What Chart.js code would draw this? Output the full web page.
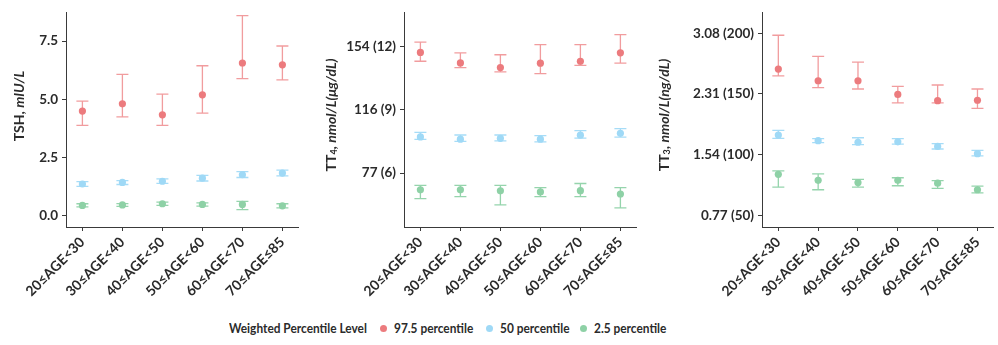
<!DOCTYPE html>
<html>
<head>
<meta charset="utf-8">
<script src="https://cdn.jsdelivr.net/npm/chart.js@4.4.1/dist/chart.umd.min.js"></script>
<style>
  html, body { margin: 0; padding: 0; background: #fff; }
  body { width: 998px; height: 345px; position: relative; overflow: hidden; font-family: Lato, sans-serif; }
  canvas { position: absolute; top: 0; }
  #c1 { left: 0; }
  #c2 { left: 320px; }
  #c3 { left: 650px; }
  .legend span { position: absolute; top: 319px; font-size: 13.5px; font-weight: 700; color: #2b2b2b; white-space: nowrap; line-height: 18px; transform: scaleX(0.88); transform-origin: left center; }
  .legend .dot { width: 7px; height: 7px; border-radius: 50%; top: 325px; transform: none; }
</style>
</head>
<body>
<canvas id="c1" width="305" height="300"></canvas>
<canvas id="c2" width="320" height="300"></canvas>
<canvas id="c3" width="348" height="300"></canvas>
<div class="legend">
  <span style="left:229px">Weighted Percentile Level</span>
  <span class="dot" style="left:380px;background:#ec7b7e"></span>
  <span style="left:394px">97.5 percentile</span>
  <span class="dot" style="left:486px;background:#9fd9f6"></span>
  <span style="left:500px">50 percentile</span>
  <span class="dot" style="left:580px;background:#8ed1a6"></span>
  <span style="left:594px">2.5 percentile</span>
</div>
<script>
const ageGroups = ["20≤AGE<30", "30≤AGE<40", "40≤AGE<50", "50≤AGE<60", "60≤AGE<70", "70≤AGE≤85"];
const seriesNames = ["97.5 percentile", "50 percentile", "2.5 percentile"];

// each entry: [lower CI, estimate, upper CI]
const tshP975 = [[3.87, 4.49, 4.92], [4.24, 4.80, 6.07], [3.87, 4.33, 5.22], [4.40, 5.19, 6.44], [5.89, 6.56, 8.60], [5.83, 6.48, 7.29]];
const tshP50 = [[1.25, 1.35, 1.45], [1.33, 1.42, 1.50], [1.38, 1.47, 1.57], [1.48, 1.60, 1.72], [1.63, 1.75, 1.88], [1.70, 1.82, 1.95]];
const tshP25 = [[0.37, 0.43, 0.50], [0.39, 0.45, 0.51], [0.43, 0.50, 0.57], [0.40, 0.47, 0.54], [0.25, 0.47, 0.60], [0.32, 0.41, 0.50]];

// TT4 in ug/dL
const tt4P975 = [[11.32, 11.74, 12.23], [11.02, 11.24, 11.72], [10.81, 11.02, 11.63], [10.73, 11.23, 12.11], [11.12, 11.32, 12.11], [11.23, 11.72, 12.59]];
const tt4P50 = [[7.60, 7.72, 7.93], [7.51, 7.61, 7.81], [7.53, 7.65, 7.81], [7.48, 7.61, 7.78], [7.66, 7.80, 8.02], [7.71, 7.89, 8.11]];
const tt4P25 = [[4.78, 5.20, 5.41], [4.88, 5.20, 5.41], [4.48, 5.15, 5.41], [4.88, 5.10, 5.30], [4.88, 5.16, 5.50], [4.34, 5.00, 5.30]];

// TT3 in ng/dL
const tt3P975 = [[164.9, 170.5, 198.4], [155.3, 160.9, 181.0], [154.1, 160.9, 176.2], [142.6, 149.6, 156.3], [142.6, 144.5, 157.4], [138.1, 144.8, 154.1]];
const tt3P50 = [[113.4, 116.1, 119.9], [109.9, 111.5, 113.2], [108.3, 110.2, 113.9], [108.6, 110.5, 113.2], [104.6, 106.7, 109.1], [99.0, 100.8, 103.5]];
const tt3P25 = [[73.2, 83.7, 86.6], [71.0, 78.8, 84.1], [73.2, 76.9, 79.6], [74.3, 78.8, 80.9], [72.1, 76.4, 78.5], [68.4, 71.0, 74.0]];

const tshTicks = [0, 2.5, 5, 7.5];
const tshTickLabels = ["0.0", "2.5", "5.0", "7.5"];
const tt4Ticks = [6, 9, 12];
const tt4TickLabels = ["77 (6)", "116 (9)", "154 (12)"];
const tt3Ticks = [50, 100, 150, 200];
const tt3TickLabels = ["0.77 (50)", "1.54 (100)", "2.31 (150)", "3.08 (200)"];

const pointColors = ["#ec7b7e", "#9fd9f6", "#8ed1a6"];
const barColors = ["rgba(236,123,126,0.75)", "rgba(150,214,246,0.85)", "rgba(130,205,158,0.85)"];
const textColor = "#2b2b2b";
const axisColor = "#3a3a3a";

/* error bars drawn under the points */
const errorBars = {
    id: "errorBars",
    beforeDatasetsDraw(chart) {
        const ctx = chart.ctx;
        const yScale = chart.scales.y;
        chart.data.datasets.forEach((ds, i) => {
            const meta = chart.getDatasetMeta(i);
            ctx.save();
            ctx.strokeStyle = barColors[i];
            ctx.lineWidth = 1.3;
            meta.data.forEach((pt, j) => {
                const raw = ds.data[j];
                const yLo = yScale.getPixelForValue(raw.lo);
                const yHi = yScale.getPixelForValue(raw.hi);
                const x = pt.x;
                ctx.beginPath();
                ctx.moveTo(x, yLo); ctx.lineTo(x, yHi);
                ctx.moveTo(x - 6, yLo); ctx.lineTo(x + 6, yLo);
                ctx.moveTo(x - 6, yHi); ctx.lineTo(x + 6, yHi);
                ctx.stroke();
            });
            ctx.restore();
        });
    }
};

/* y axis title with mixed upright / italic / subscript parts */
const yTitle = {
    id: "yTitle",
    afterDraw(chart, args, opts) {
        const ctx = chart.ctx;
        const parts = opts.parts;
        const fontFor = p => (p.italic ? "italic " : "") + "700 " + (p.small ? 9 : 14) + "px Lato, sans-serif";
        let total = 0;
        parts.forEach(p => { ctx.font = fontFor(p); p.w = ctx.measureText(p.t).width; total += p.w; });
        ctx.save();
        ctx.translate(opts.x, opts.y);
        ctx.rotate(-Math.PI / 2);
        ctx.fillStyle = textColor;
        ctx.textBaseline = "middle";
        let x = -total / 2;
        parts.forEach(p => {
            ctx.font = fontFor(p);
            ctx.fillText(p.t, x, p.small ? 3 : 0);
            x += p.w;
        });
        ctx.restore();
    }
};

function makePanel(id, seriesList, yMin, yMax, ticks, tickLabels, yWidth, padRight, title) {
    const datasets = seriesList.map((rows, i) => ({
        label: seriesNames[i],
        data: rows.map((r, j) => ({ x: j, y: r[1], lo: r[0], hi: r[2] })),
        backgroundColor: pointColors[i],
        borderColor: pointColors[i],
        pointRadius: 3.6,
        pointBorderWidth: 0
    }));
    return new Chart(document.getElementById(id), {
        type: "scatter",
        data: { datasets },
        plugins: [errorBars, yTitle],
        options: {
            responsive: false,
            animation: false,
            layout: { padding: { top: 7, right: padRight, left: 0, bottom: 0 } },
            plugins: {
                legend: { display: false },
                tooltip: { enabled: false },
                yTitle: title
            },
            scales: {
                x: {
                    type: "linear",
                    min: -0.41,
                    max: 5.39,
                    afterBuildTicks: s => { s.ticks = ageGroups.map((_, i) => ({ value: i })); },
                    afterFit: s => { s.height = 73; },
                    grid: { drawOnChartArea: false, drawTicks: true, tickLength: 4, color: axisColor },
                    border: { color: axisColor, width: 1 },
                    ticks: {
                        autoSkip: false,
                        minRotation: 45,
                        maxRotation: 45,
                        padding: 3,
                        color: textColor,
                        font: { family: "Lato, sans-serif", size: 14, weight: "700" },
                        callback: v => ageGroups[v]
                    }
                },
                y: {
                    min: yMin,
                    max: yMax,
                    afterBuildTicks: s => { s.ticks = ticks.map(v => ({ value: v })); },
                    afterFit: s => { s.width = yWidth; },
                    grid: { drawOnChartArea: false, drawTicks: true, tickLength: 4, color: axisColor },
                    border: { color: axisColor, width: 1 },
                    ticks: {
                        padding: 4,
                        color: textColor,
                        font: { family: "Lato, sans-serif", size: 13.5, weight: "700" },
                        callback: v => tickLabels[ticks.indexOf(v)]
                    }
                }
            }
        }
    });
}

makePanel("c1", [tshP975, tshP50, tshP25], -0.5, 8.75, tshTicks, tshTickLabels, 66, 7,
    { x: 19, y: 106, parts: [{ t: "TSH, " }, { t: "mIU/L", italic: true }] });
makePanel("c2", [tt4P975, tt4P50, tt4P25], 3.43, 13.66, tt4Ticks, tt4TickLabels, 84, 4,
    { x: 11, y: 115, parts: [{ t: "TT" }, { t: "4", small: true }, { t: ", " }, { t: "nmol/L(μg/dL)", italic: true }] });
makePanel("c3", [tt3P975, tt3P50, tt3P25], 40.3, 217.5, tt3Ticks, tt3TickLabels, 112, 5,
    { x: 14, y: 115, parts: [{ t: "TT" }, { t: "3", small: true }, { t: ", " }, { t: "nmol/L(ng/dL)", italic: true }] });
</script>
</body>
</html>
